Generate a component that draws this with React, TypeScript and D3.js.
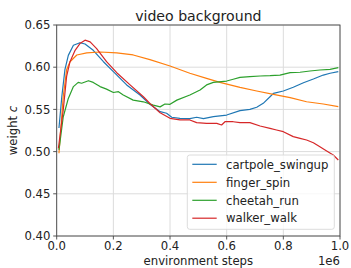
import React from "react";
import * as d3 from "d3";

const W = 351;
const H = 268;

const seriesNames = ["cartpole_swingup", "finger_spin", "cheetah_run", "walker_walk"];
const seriesColors = ["#1f77b4", "#ff7f0e", "#2ca02c", "#d62728"];

// x in millions of environment steps, y = weight c
const cartpole: [number, number][] = [
  [0.008, 0.528], [0.018, 0.565], [0.029, 0.597], [0.041, 0.614], [0.059, 0.626],
  [0.082, 0.629], [0.1, 0.6275], [0.129, 0.62], [0.165, 0.6065], [0.2, 0.5947],
  [0.247, 0.579], [0.294, 0.567], [0.329, 0.556], [0.365, 0.5473], [0.388, 0.5454],
  [0.406, 0.5407], [0.435, 0.5394], [0.47, 0.539], [0.494, 0.5407], [0.518, 0.539],
  [0.553, 0.5414], [0.6, 0.5433], [0.647, 0.5485], [0.682, 0.55], [0.706, 0.5525],
  [0.729, 0.5572], [0.753, 0.565], [0.765, 0.569], [0.8, 0.5718], [0.835, 0.5762],
  [0.871, 0.5816], [0.906, 0.586], [0.941, 0.5907], [0.965, 0.5928], [0.994, 0.5947],
];

const fingerSpin: [number, number][] = [
  [0.008, 0.498], [0.023, 0.565], [0.035, 0.597], [0.047, 0.6065], [0.071, 0.6145],
  [0.106, 0.617], [0.153, 0.618], [0.212, 0.617], [0.27, 0.6145], [0.329, 0.609],
  [0.4, 0.6014], [0.47, 0.5928], [0.529, 0.5868], [0.576, 0.582], [0.647, 0.576],
  [0.706, 0.5718], [0.765, 0.5679], [0.824, 0.5639], [0.882, 0.5591], [0.941, 0.5564],
  [0.994, 0.5532],
];

const cheetahRun: [number, number][] = [
  [0.008, 0.502], [0.023, 0.541], [0.041, 0.563], [0.059, 0.577], [0.076, 0.582],
  [0.088, 0.581], [0.112, 0.584], [0.129, 0.582], [0.153, 0.577], [0.176, 0.574],
  [0.2, 0.57], [0.218, 0.571], [0.235, 0.567], [0.27, 0.561], [0.306, 0.559],
  [0.341, 0.555], [0.365, 0.553], [0.382, 0.5564], [0.4, 0.556], [0.424, 0.561],
  [0.47, 0.567], [0.506, 0.573], [0.529, 0.579], [0.553, 0.582], [0.6, 0.5836],
  [0.623, 0.5857], [0.647, 0.588], [0.682, 0.5888], [0.718, 0.5896], [0.753, 0.59],
  [0.788, 0.5907], [0.824, 0.5935], [0.859, 0.594], [0.894, 0.5955], [0.929, 0.5967],
  [0.965, 0.5975], [0.994, 0.5994],
];

const walkerWalk: [number, number][] = [
  [0.006, 0.504], [0.023, 0.549], [0.035, 0.589], [0.047, 0.6065], [0.065, 0.62],
  [0.082, 0.628], [0.1, 0.632], [0.118, 0.63], [0.141, 0.622], [0.176, 0.6065],
  [0.212, 0.5935], [0.259, 0.579], [0.306, 0.565], [0.329, 0.557], [0.365, 0.546],
  [0.4, 0.5394], [0.435, 0.5375], [0.47, 0.5375], [0.494, 0.5343], [0.529, 0.5335],
  [0.565, 0.5335], [0.582, 0.5315], [0.594, 0.5354], [0.623, 0.5354], [0.647, 0.5343],
  [0.682, 0.5343], [0.718, 0.5303], [0.753, 0.5276], [0.776, 0.5256], [0.8, 0.5236],
  [0.835, 0.5177], [0.859, 0.5157], [0.882, 0.5137], [0.906, 0.5105], [0.929, 0.5058],
  [0.953, 0.5007], [0.976, 0.496], [0.994, 0.49],
];

const allSeries = [cartpole, fingerSpin, cheetahRun, walkerWalk];

const xTicks = [0, 0.2, 0.4, 0.6, 0.8, 1.0];
const yTicks = [0.4, 0.45, 0.5, 0.55, 0.6, 0.65];

export default function App() {
  const left = 56.7, right = 340, top = 25, bottom = 236;
  const x = d3.scaleLinear().domain([0, 1]).range([left, right]);
  const y = d3.scaleLinear().domain([0.4, 0.65]).range([bottom, top]);
  const line = d3.line<[number, number]>().x((d) => x(d[0])).y((d) => y(d[1]));
  const font = "DejaVu Sans, sans-serif";
  const fs = 11.7;
  const gridColor = "#dcdcdc";
  const spine = "#444";

  const legX = 187.3, legY = 155, legW = 147, legH = 74.3;
  const rowY = [164.3, 182.3, 200.3, 218.2];

  return (
    <svg width={W} height={H} style={{ position: "absolute", left: 0, top: 0, background: "#fff" }} fontFamily={font}>
      <rect x={0} y={0} width={W} height={H} fill="#fff" />
      {xTicks.map((t) => (
        <line key={"gx" + t} x1={x(t)} x2={x(t)} y1={top} y2={bottom} stroke={gridColor} strokeWidth={1} />
      ))}
      {yTicks.map((t) => (
        <line key={"gy" + t} x1={left} x2={right} y1={y(t)} y2={y(t)} stroke={gridColor} strokeWidth={1} />
      ))}
      <defs>
        <clipPath id="clip">
          <rect x={left} y={top} width={right - left} height={bottom - top} />
        </clipPath>
      </defs>
      <g clipPath="url(#clip)">
        {allSeries.map((s, i) => (
          <path key={seriesNames[i]} d={line(s) || ""} fill="none" stroke={seriesColors[i]} strokeWidth={1.2} strokeLinejoin="round" />
        ))}
      </g>
      <rect x={left} y={top} width={right - left} height={bottom - top} fill="none" stroke={spine} strokeWidth={0.9} />
      {xTicks.map((t) => (
        <g key={"tx" + t}>
          <line x1={x(t)} x2={x(t)} y1={bottom} y2={bottom + 3.5} stroke={spine} strokeWidth={0.9} />
          <text x={x(t)} y={249.5} fontSize={fs} textAnchor="middle" fill="#222">{t.toFixed(1)}</text>
        </g>
      ))}
      {yTicks.map((t) => (
        <g key={"ty" + t}>
          <line x1={left - 3.5} x2={left} y1={y(t)} y2={y(t)} stroke={spine} strokeWidth={0.9} />
          <text x={50.5} y={y(t)} dy="0.36em" fontSize={fs} textAnchor="end" fill="#222">{t.toFixed(2)}</text>
        </g>
      ))}
      <text x={(left + right) / 2} y={20.5} fontSize={14.1} textAnchor="middle" fill="#222">video background</text>
      <text x={(left + right) / 2} y={264.5} fontSize={fs} textAnchor="middle" fill="#222">environment steps</text>
      <text x={right} y={264.5} fontSize={fs} textAnchor="end" fill="#222">1e6</text>
      <text transform={`translate(17, ${(top + bottom) / 2}) rotate(-90)`} fontSize={fs} textAnchor="middle" fill="#222">
        weight <tspan fontStyle="italic">c</tspan>
      </text>
      <rect x={legX} y={legY} width={legW} height={legH} rx={2.5} fill="#fff" fillOpacity={0.8} stroke="#d8d8d8" strokeWidth={0.9} />
      {seriesNames.map((n, i) => (
        <g key={"leg" + n}>
          <line x1={192.3} x2={216.7} y1={rowY[i]} y2={rowY[i]} stroke={seriesColors[i]} strokeWidth={1.2} />
          <text x={226} y={rowY[i]} dy="0.36em" fontSize={fs} fill="#222">{n}</text>
        </g>
      ))}
    </svg>
  );
}
